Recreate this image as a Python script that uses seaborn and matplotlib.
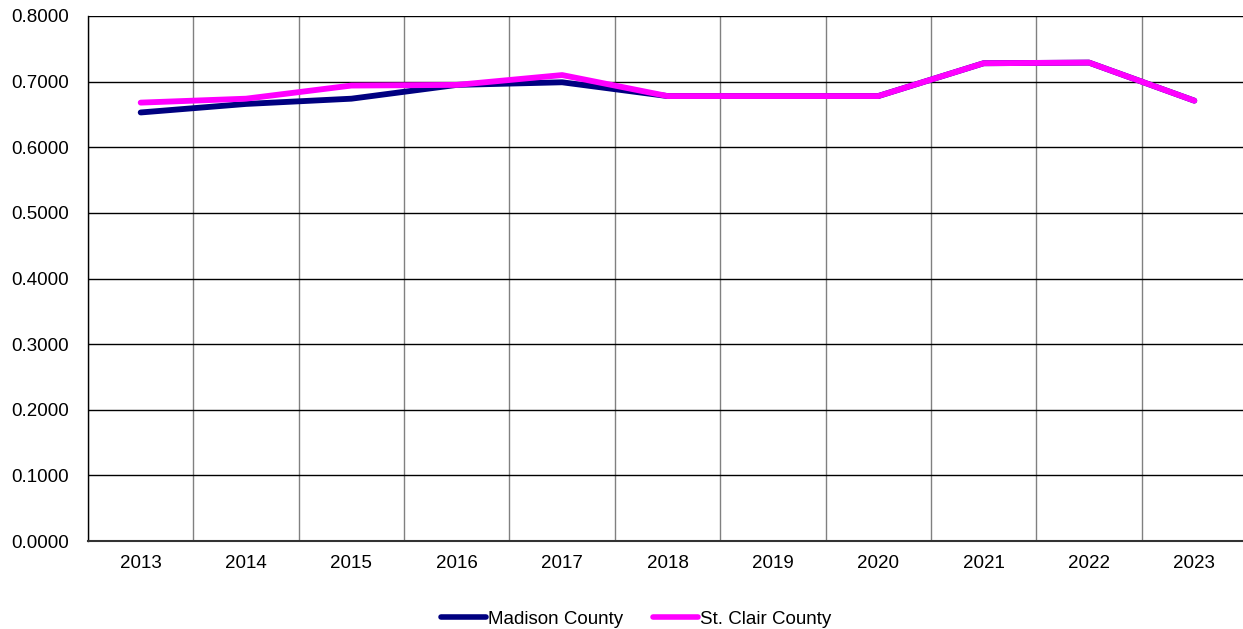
import numpy as np
import pandas as pd
import matplotlib
matplotlib.use('Agg')
import matplotlib.pyplot as plt
import seaborn as sns

# values
years = ['2013', '2014', '2015', '2016', '2017', '2018', '2019', '2020', '2021', '2022', '2023']
madison = [0.653, 0.666, 0.674, 0.695, 0.699, 0.678, 0.678, 0.678, 0.728, 0.729, 0.671]
st_clair = [0.668, 0.674, 0.694, 0.695, 0.710, 0.678, 0.678, 0.678, 0.728, 0.729, 0.671]
series_names = ['Madison County', 'St. Clair County']
colors = ['#000080', '#FF00FF']

df = pd.DataFrame({
    'pos': list(range(len(years))) * 2,
    'value': madison + st_clair,
    'county': [series_names[0]] * len(years) + [series_names[1]] * len(years),
})

sns.set_style('white')
plt.rcParams['font.family'] = ['Liberation Sans', 'DejaVu Sans']
plt.rcParams['text.color'] = 'black'
plt.rcParams['xtick.labelcolor'] = 'black'
plt.rcParams['ytick.labelcolor'] = 'black'

fig = plt.figure(figsize=(12.43, 6.29), dpi=100)
ax = fig.add_axes([88 / 1243, 1 - 541 / 629, (1247 - 88) / 1243, (541 - 16) / 629])

sns.lineplot(data=df, x='pos', y='value', hue='county', palette=colors,
             linewidth=4.2, ax=ax, legend=True, zorder=3)
for line in ax.get_lines():
    line.set_solid_capstyle('round')
    line.set_solid_joinstyle('round')

ax.set_xlim(-0.5, len(years) - 0.5)
ax.set_ylim(0, 0.8)
yt = np.arange(0, 0.81, 0.1)
ax.set_yticks(yt)
ax.set_yticklabels([f'{v:.4f}' for v in yt], fontsize=13.5)
ax.set_xticks(range(len(years)))
ax.set_xticklabels(years, fontsize=13.5)
ax.set_xticks(np.arange(-0.5, len(years), 1.0), minor=True)
ax.tick_params(axis='x', which='major', length=0, pad=10)
ax.tick_params(axis='x', which='minor', length=6, color='#808080', width=1)
ax.tick_params(axis='y', length=5, color='black', width=1, pad=9)

ax.grid(axis='y', which='major', color='black', linewidth=1)
ax.grid(axis='x', which='minor', color='#808080', linewidth=1)
ax.set_axisbelow(True)

for side in ['top', 'right']:
    ax.spines[side].set_visible(False)
ax.spines['left'].set_color('black')
ax.spines['bottom'].set_color('#333333')
ax.spines['left'].set_linewidth(1)
ax.spines['bottom'].set_linewidth(1.5)

ax.set_xlabel('')
ax.set_ylabel('')

handles, labels = ax.get_legend_handles_labels()
for h in handles:
    h.set_solid_capstyle('round')
    h.set_linewidth(4.0)
ax.legend(handles, labels, loc='center', bbox_to_anchor=(0.473, -0.149),
          ncol=2, frameon=False, fontsize=13.5, handlelength=2.4, handletextpad=0.1,
          columnspacing=1.6)

fig.savefig('out.png', dpi=100)
